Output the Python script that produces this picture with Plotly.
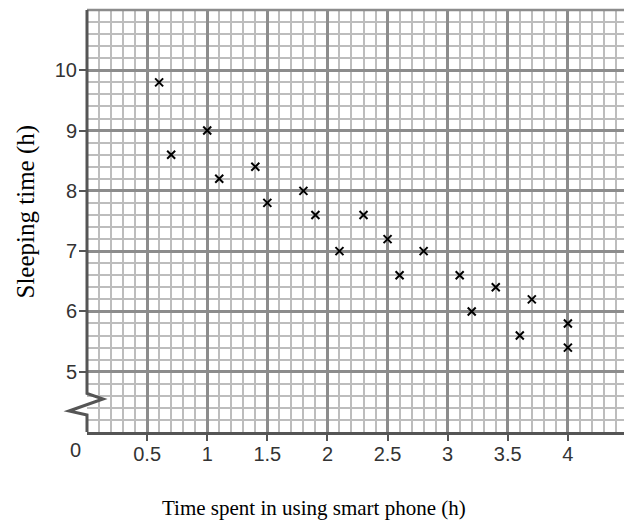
import plotly.graph_objects as go

phone_hours = [0.6, 0.7, 1.0, 1.1, 1.4, 1.5, 1.8, 1.9, 2.1, 2.3, 2.5, 2.6, 2.8, 3.1, 3.2, 3.4, 3.6, 3.7, 4.0, 4.0]
sleep_hours = [9.8, 8.6, 9.0, 8.2, 8.4, 7.8, 8.0, 7.6, 7.0, 7.6, 7.2, 6.6, 7.0, 6.6, 6.0, 6.4, 5.6, 6.2, 5.8, 5.4]

x_ticks = [0.5, 1, 1.5, 2, 2.5, 3, 3.5, 4]
x_tick_text = ["0.5", "1", "1.5", "2", "2.5", "3", "3.5", "4"]
y_ticks = [5, 6, 7, 8, 9, 10]
y_tick_text = ["5", "6", "7", "8", "9", "10"]

x_title = "Time spent in using smart phone (h)"
y_title = "Sleeping time (h)"

MAJOR = "#8c8c8c"
MINOR = "#bdbdbd"
AXIS = "#555555"

fig = go.Figure()
fig.add_trace(go.Scatter(
    x=phone_hours, y=sleep_hours, mode="markers",
    marker=dict(symbol="x-thin-open", size=8, color="black",
                line=dict(color="black", width=2)),
    showlegend=False, cliponaxis=False,
))

tick_font = dict(family="Liberation Sans, Arial, sans-serif", size=20, color="#333333")
title_font = dict(family="Liberation Serif, Times New Roman, serif", size=21, color="black")
ytitle_font = dict(family="Liberation Serif, Times New Roman, serif", size=25, color="black")

fig.update_xaxes(
    range=[0, 4.5], tickmode="array", tickvals=x_ticks, ticktext=x_tick_text,
    showgrid=True, gridcolor=MAJOR, gridwidth=2.5,
    minor=dict(tick0=0, dtick=0.1, showgrid=True, gridcolor=MINOR, gridwidth=1.5),
    ticks="outside", ticklen=6, tickwidth=2, tickcolor=AXIS,
    showline=True, linecolor=AXIS, linewidth=3, ticklabelstandoff=-4,
    zeroline=False, tickfont=tick_font, automargin=False,
)
fig.update_yaxes(
    range=[4, 11], tickmode="array", tickvals=y_ticks, ticktext=y_tick_text,
    showgrid=True, gridcolor=MAJOR, gridwidth=2.5,
    minor=dict(tick0=4, dtick=0.2, showgrid=True, gridcolor=MINOR, gridwidth=1.5),
    ticks="outside", ticklen=7, tickwidth=2, tickcolor=AXIS, ticklabelstandoff=-2,
    showline=False, zeroline=False, tickfont=tick_font, automargin=False,
)

shapes = [
    # top and right border lines
    dict(type="line", xref="paper", yref="paper", x0=0, x1=1, y0=1, y1=1,
         line=dict(color=MAJOR, width=2.5)),
    dict(type="line", xref="paper", yref="paper", x0=1, x1=1, y0=0, y1=1,
         line=dict(color=MAJOR, width=2.5)),
    # left axis line with break (zigzag)
    dict(type="path", xref="paper", yref="paper",
         path="M 0,1 L 0,0.0912 L 0.0296,0.0782 L -0.0333,0.0498 L 0,0.0403 L 0,0",
         line=dict(color=AXIS, width=3)),
]
fig.update_layout(shapes=shapes)

fig.add_annotation(text="0", xref="paper", yref="paper", x=0, y=0,
                   xshift=-12, yshift=-17.5, showarrow=False,
                   font=tick_font, xanchor="center", yanchor="middle")
fig.add_annotation(text=x_title, xref="paper", yref="paper", x=0.4187, y=-0.180,
                   showarrow=False, font=title_font, xanchor="center", yanchor="middle")
fig.add_annotation(text=y_title, xref="paper", yref="paper", x=-0.1128, y=0.5225,
                   textangle=-90, showarrow=False, font=ytitle_font,
                   xanchor="center", yanchor="middle")

fig.update_layout(
    width=624, height=514,
    margin=dict(l=79, r=4, t=2, b=90, autoexpand=False),
    paper_bgcolor="white", plot_bgcolor="white",
)

fig.write_html("out.html")
